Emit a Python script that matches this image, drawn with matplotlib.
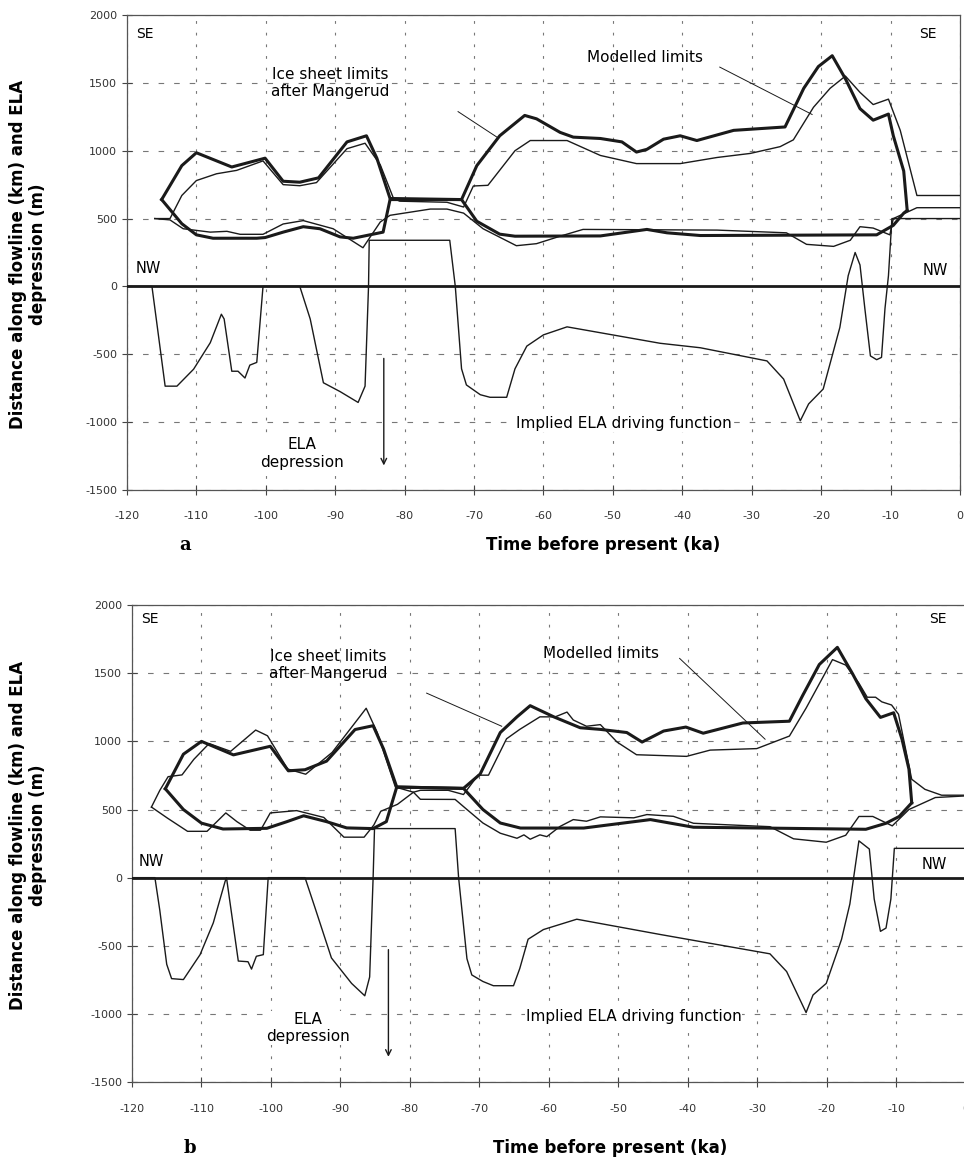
import numpy as np
import matplotlib
matplotlib.use("Agg")
import matplotlib.pyplot as plt

plt.rcParams['axes.unicode_minus'] = False
plt.rcParams['font.family'] = ['DejaVu Sans']

# ---- panel a : (time ka, value) pairs ----
a_mang_upper = [(-115, 640), (-112.1, 890), (-110, 985), (-104.9, 880), (-100.1, 945),
                (-97.5, 775), (-95.1, 768), (-92.4, 800), (-88.3, 1065), (-85.5, 1110),
                (-84, 945), (-82.1, 648), (-71.8, 640), (-69.6, 890), (-66.3, 1110),
                (-62.7, 1260), (-61, 1235), (-57.6, 1135), (-55.7, 1100), (-51.8, 1090),
                (-48.7, 1065), (-46.6, 990), (-45.1, 1010), (-42.7, 1085), (-40.3, 1110),
                (-37.9, 1075), (-32.6, 1150), (-25.2, 1175), (-22.5, 1460), (-20.4, 1620),
                (-18.4, 1700), (-16.5, 1530), (-14.4, 1310), (-12.5, 1225), (-10.3, 1270),
                (-9.6, 1110), (-8.1, 850), (-7.6, 560)]
a_mang_lower = [(-115, 640), (-112.1, 462), (-110, 380), (-107.6, 355), (-101.3, 355),
                (-100.1, 360), (-97.5, 400), (-94.6, 440), (-92.2, 425), (-89.3, 365),
                (-87.4, 355), (-83.1, 400), (-82.1, 640), (-71.8, 640), (-69.6, 480),
                (-66.3, 385), (-64.1, 370), (-51.8, 372), (-45.1, 420), (-42.2, 395),
                (-37.4, 375), (-12, 380), (-9.6, 450), (-8.1, 540), (-7.6, 560)]
a_mod_upper = [(-116, 500), (-113.8, 500), (-112.1, 670), (-110, 780), (-107.1, 830),
               (-104.2, 855), (-100.4, 925), (-97.5, 750), (-95.1, 742), (-92.7, 765),
               (-88.3, 1015), (-85.7, 1055), (-83.5, 895), (-81.6, 648), (-80.7, 628),
               (-73.9, 620), (-71.5, 585), (-70.1, 740), (-68, 745), (-64.1, 1000),
               (-61.9, 1075), (-56.6, 1075), (-51.8, 965), (-46.6, 905), (-40.3, 905),
               (-35, 950), (-30.2, 980), (-25.9, 1030), (-24, 1080), (-21.1, 1320),
               (-18.7, 1460), (-16.5, 1550), (-14.4, 1430), (-12.5, 1340), (-10.3, 1380),
               (-8.6, 1150), (-6.2, 670), (0, 670)]
a_mod_lower = [(-116, 500), (-113.8, 490), (-111.9, 425), (-108, 400), (-105.6, 406),
               (-103.7, 384), (-100.4, 384), (-97.5, 460), (-94.6, 485), (-90.3, 425),
               (-86, 285), (-83.5, 475), (-82.1, 524), (-76.3, 570), (-73.9, 570),
               (-71.5, 540), (-68.7, 425), (-63.9, 300), (-61, 315), (-57.6, 370),
               (-54.3, 420), (-35, 415), (-25, 395), (-22.1, 310), (-18.2, 295),
               (-15.8, 340), (-14.4, 440), (-12.5, 430), (-10.1, 380), (-9.6, 500),
               (-6.2, 580), (0, 580)]
a_ela = [(-120, 0), (-116.4, 0), (-115.7, -270), (-114.5, -735), (-112.8, -735),
         (-110.4, -610), (-108, -415), (-106.4, -205), (-106, -240), (-104.9, -625),
         (-104, -625), (-103, -675), (-102.3, -580), (-101.3, -560), (-100.4, 0),
         (-95.1, 0), (-93.6, -240), (-91.7, -710), (-89.3, -775), (-86.7, -855),
         (-85.7, -735), (-85.2, 0), (-85.1, 340), (-73.5, 340), (-72.7, 0),
         (-71.8, -607), (-71.1, -726), (-69.1, -798), (-67.7, -817), (-65.3, -817),
         (-64.1, -607), (-62.4, -440), (-60, -357), (-56.6, -298), (-43.2, -419),
         (-37.4, -452), (-27.8, -549), (-25.4, -683), (-23, -990), (-21.8, -866),
         (-19.7, -756), (-17.3, -302), (-16.1, 79), (-15.1, 250), (-14.4, 158),
         (-13.7, -163), (-12.9, -512), (-12, -540), (-11.3, -523), (-10.8, -163),
         (-10.3, 79), (-9.8, 500), (0, 500)]

# ---- panel b ----
b_mang_upper = [(-115.2, 652), (-112.6, 906), (-110, 1000), (-105.4, 901), (-100.1, 964),
                (-97.5, 784), (-95.1, 792), (-92, 855), (-87.9, 1087), (-85.3, 1115),
                (-83.8, 944), (-81.9, 665), (-72.3, 655), (-69.9, 760), (-67, 1065),
                (-64.6, 1180), (-62.7, 1262), (-59.3, 1180), (-55.5, 1100), (-52.6, 1088),
                (-48.8, 1065), (-46.6, 995), (-43.5, 1076), (-40.3, 1105), (-37.8, 1060),
                (-32.1, 1135), (-25.4, 1148), (-23.5, 1336), (-21.1, 1564), (-18.5, 1690),
                (-16.3, 1495), (-14.4, 1313), (-12.3, 1176), (-10.4, 1210), (-9.2, 1016),
                (-8.2, 796), (-7.8, 549)]
b_mang_lower = [(-115.2, 652), (-112.6, 500), (-110, 400), (-106.9, 357), (-100.6, 362),
                (-97.7, 411), (-95.3, 454), (-92, 411), (-89.1, 365), (-85.3, 360),
                (-83.4, 411), (-81.9, 665), (-72.3, 655), (-69.5, 500), (-67, 401),
                (-64.1, 364), (-55, 364), (-45.4, 426), (-39.2, 370), (-14.4, 355),
                (-11.5, 399), (-9.6, 449), (-7.8, 549)]
b_mod_upper = [(-117.2, 518), (-116, 640), (-114.8, 741), (-112.8, 754), (-111.1, 868),
               (-108.9, 984), (-105.8, 927), (-102.2, 1083), (-100.5, 1041), (-97.6, 797),
               (-95, 759), (-91.2, 919), (-89, 1064), (-86.3, 1243), (-84.7, 1064),
               (-82.1, 665), (-79.5, 627), (-78.5, 641), (-74.5, 641), (-72.3, 610),
               (-70.2, 752), (-68.7, 752), (-66.1, 1019), (-64.2, 1088), (-61.3, 1180),
               (-59.1, 1180), (-57.4, 1215), (-56.5, 1157), (-54.6, 1111), (-52.6, 1123),
               (-50.2, 995), (-47.4, 902), (-40.2, 890), (-36.8, 936), (-30.1, 947),
               (-25.4, 1039), (-23, 1244), (-19.2, 1600), (-17.3, 1560), (-15.4, 1427),
               (-14.2, 1324), (-13, 1324), (-12.1, 1290), (-10.7, 1267), (-9.7, 1199),
               (-7.8, 722), (-5.9, 648), (-3.5, 605), (0, 605)]
b_mod_lower = [(-117.2, 518), (-114.9, 437), (-112, 340), (-109.2, 340), (-106.5, 475),
               (-104.9, 411), (-103, 348), (-101.5, 348), (-100.1, 475), (-96.3, 492),
               (-92.4, 442), (-89.5, 297), (-86.6, 297), (-85.2, 386), (-84.2, 487),
               (-81.8, 538), (-79.5, 627), (-78.5, 575), (-73.5, 574), (-71.8, 500),
               (-69.5, 401), (-67, 326), (-64.6, 289), (-63.6, 314), (-62.7, 282),
               (-61.3, 314), (-60.3, 301), (-58.4, 376), (-56.5, 426), (-54.6, 414),
               (-52.6, 446), (-47.8, 439), (-45.9, 463), (-42.1, 450), (-39.2, 399),
               (-28.2, 374), (-24.8, 285), (-20.1, 260), (-17.3, 311), (-15.4, 449),
               (-13.4, 449), (-10.6, 380), (-8.2, 500), (-4.4, 588), (0, 600)]
b_ela = [(-120, 0), (-116.7, 0), (-116, -238), (-115, -636), (-114.3, -741), (-112.6, -748),
         (-110.2, -565), (-108.3, -332), (-106.6, -28), (-106.4, 0), (-104.7, -612),
         (-103.3, -617), (-102.8, -671), (-102.1, -577), (-101.1, -565), (-100.4, 0),
         (-95.1, 0), (-93.7, -215), (-91.3, -589), (-88.4, -776), (-86.5, -867),
         (-85.8, -729), (-85.3, 0), (-85.1, 360), (-73.5, 360), (-73, 0), (-71.8, -595),
         (-71.1, -714), (-69.5, -762), (-68, -793), (-65.1, -793), (-64.2, -667),
         (-63, -452), (-60.8, -381), (-56, -305), (-44, -417), (-28.2, -559),
         (-25.8, -689), (-23, -990), (-22, -861), (-20.1, -776), (-17.9, -453),
         (-16.7, -193), (-15.4, 270), (-13.9, 210), (-13.2, -157), (-12.3, -394),
         (-11.5, -370), (-10.8, -157), (-10.3, 215), (0, 215)]

x_ticks = list(range(-120, 1, 10))
y_ticks = list(range(-1500, 2001, 500))

INK = '#1a1a1a'


def xy(pairs):
    arr = np.array(pairs, dtype=float)
    return arr[:, 0], arr[:, 1]


def draw_panel(ax, mang_up, mang_lo, mod_up, mod_lo, ela):
    ax.set_xlim(-120, 0)
    ax.set_ylim(-1500, 2000)
    ax.set_xticks(x_ticks)
    ax.set_yticks(y_ticks)
    ax.tick_params(direction='inout', length=7, width=0.8, colors='#444444',
                   labelsize=8, labelcolor='#333333')
    ax.tick_params(axis='x', pad=12)
    for s in ax.spines.values():
        s.set_color('#555555')
        s.set_linewidth(0.9)
    ax.grid(axis='y', linestyle=(0, (5, 9)), color='#777777', linewidth=0.8)
    ax.grid(axis='x', linestyle=(0, (2.5, 8)), color='#777777', linewidth=0.8)

    ax.axhline(0, color=INK, linewidth=2.0, zorder=3)
    for pairs in (mod_up, mod_lo, ela):
        ax.plot(*xy(pairs), color=INK, linewidth=1.0, zorder=4)
    for pairs in (mang_up, mang_lo):
        ax.plot(*xy(pairs), color=INK, linewidth=2.2, zorder=5,
                solid_joinstyle='round')


fig = plt.figure(figsize=(9.64, 11.63), dpi=100)
ax_a = fig.add_axes([0.1317, 0.5787, 0.8641, 0.4084])
ax_b = fig.add_axes([0.1369, 0.0696, 0.8651, 0.4101])

draw_panel(ax_a, a_mang_upper, a_mang_lower, a_mod_upper, a_mod_lower, a_ela)
draw_panel(ax_b, b_mang_upper, b_mang_lower, b_mod_upper, b_mod_lower, b_ela)

fs = 11
# panel a annotations
ax_a.text(-117.4, 1860, 'SE', ha='center', va='center', fontsize=10)
ax_a.text(-4.6, 1860, 'SE', ha='center', va='center', fontsize=10)
ax_a.text(-118.8, 135, 'NW', ha='left', va='center', fontsize=10.5)
ax_a.text(-1.7, 115, 'NW', ha='right', va='center', fontsize=10.5)
ax_a.text(-90.7, 1500, 'Ice sheet limits\nafter Mangerud', ha='center', va='center',
          fontsize=fs, linespacing=1.2)
ax_a.plot([-72.3, -66.7], [1288, 1100], color=INK, linewidth=0.7)
ax_a.text(-45.4, 1690, 'Modelled limits', ha='center', va='center', fontsize=fs)
ax_a.plot([-34.6, -21.3], [1616, 1267], color=INK, linewidth=0.7)
ax_a.text(-48.4, -1010, 'Implied ELA driving function', ha='center', va='center',
          fontsize=fs, bbox=dict(facecolor='white', edgecolor='none', pad=0.5))
ax_a.text(-94.8, -1230, 'ELA\ndepression', ha='center', va='center', fontsize=fs,
          linespacing=1.2, bbox=dict(facecolor='white', edgecolor='none', pad=0.5))
ax_a.annotate('', xy=(-83, -1340), xytext=(-83, -510),
              arrowprops=dict(arrowstyle='->', color=INK, lw=1.0))

# panel b annotations
ax_b.text(-117.4, 1900, 'SE', ha='center', va='center', fontsize=10)
ax_b.text(-4.0, 1900, 'SE', ha='center', va='center', fontsize=10)
ax_b.text(-119.1, 120, 'NW', ha='left', va='center', fontsize=10.5)
ax_b.text(-2.7, 95, 'NW', ha='right', va='center', fontsize=10.5)
ax_b.text(-91.8, 1560, 'Ice sheet limits\nafter Mangerud', ha='center', va='center',
          fontsize=fs, linespacing=1.2)
ax_b.plot([-77.6, -66.8], [1354, 1111], color=INK, linewidth=0.7)
ax_b.text(-52.5, 1643, 'Modelled limits', ha='center', va='center', fontsize=fs)
ax_b.plot([-41.2, -28.9], [1609, 1016], color=INK, linewidth=0.7)
ax_b.text(-47.8, -1020, 'Implied ELA driving function', ha='center', va='center',
          fontsize=fs, bbox=dict(facecolor='white', edgecolor='none', pad=0.5))
ax_b.text(-94.7, -1105, 'ELA\ndepression', ha='center', va='center', fontsize=fs,
          linespacing=1.2, bbox=dict(facecolor='white', edgecolor='none', pad=0.5))
ax_b.annotate('', xy=(-83.1, -1335), xytext=(-83.1, -508),
              arrowprops=dict(arrowstyle='->', color=INK, lw=1.0))

# axis titles
ylab = 'Distance along flowline (km) and ELA\ndepression (m)'
fig.text(0.029, 0.7816, ylab, rotation=90, ha='center', va='center',
         fontsize=12, fontweight='bold', multialignment='center', linespacing=1.15)
fig.text(0.029, 0.282, ylab, rotation=90, ha='center', va='center',
         fontsize=12, fontweight='bold', multialignment='center', linespacing=1.15)
fig.text(0.6255, 0.531, 'Time before present (ka)', ha='center', va='center',
         fontsize=12, fontweight='bold')
fig.text(0.6328, 0.0125, 'Time before present (ka)', ha='center', va='center',
         fontsize=12, fontweight='bold')
fig.text(0.1919, 0.531, 'a', ha='center', va='center', fontsize=13,
         fontweight='bold', family='DejaVu Serif')
fig.text(0.197, 0.0125, 'b', ha='center', va='center', fontsize=13,
         fontweight='bold', family='DejaVu Serif')

fig.savefig('out.png', dpi=100, facecolor='white')
